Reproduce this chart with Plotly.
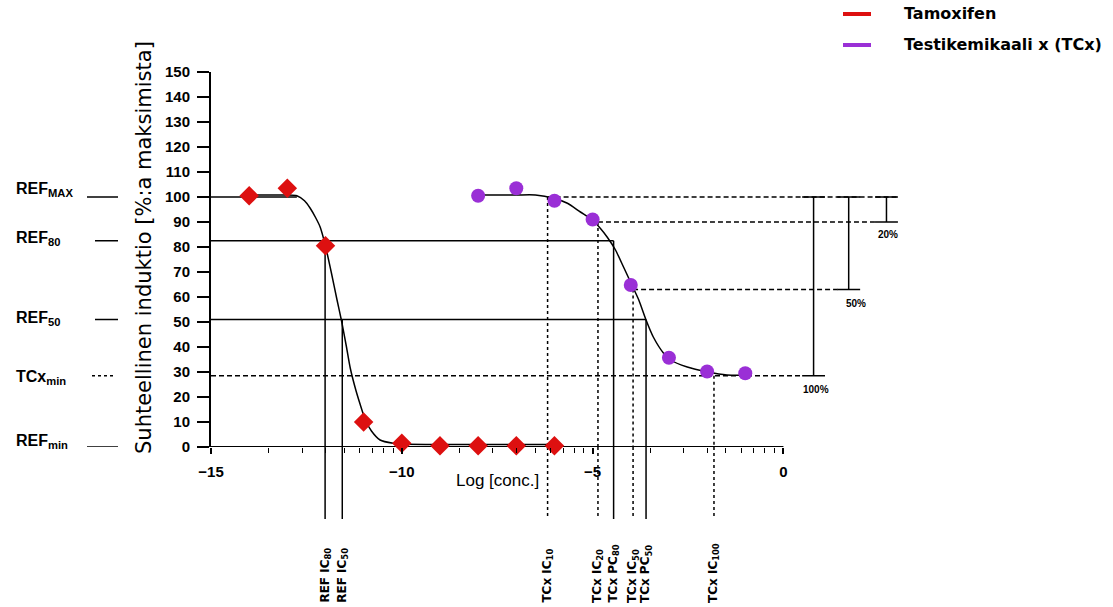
import math
import plotly.graph_objects as go

# ---------------- data ----------------
ref_name = "Tamoxifen"
tc_name = "Testikemikaali x (TCx)"

ref_x = [-14, -13, -12, -11, -10, -9, -8, -7, -6]
ref_y = [100.5, 103.5, 80.5, 10, 1.5, 0.5, 0.5, 0.5, 0.5]

tc_x = [-8, -7, -6, -5, -4, -3, -2, -1]
tc_y = [100.5, 103.5, 98.5, 91, 64.8, 35.7, 30.2, 29.5]

ref_curve_x = [-14, -13.4, -13, -12.75, -12.55, -12.4, -12.25, -12.14, -12.01, -11.85, -11.7,
               -11.58, -11.45, -11.35, -11.2, -11.09, -10.96, -10.8, -10.57, -10.23, -10,
               -9, -8, -7, -6]
ref_curve_y = [100.8, 100.8, 100.8, 100.5, 98.5, 95.5, 91.5, 88, 81, 70, 59,
               50.5, 40, 31.5, 22.5, 17, 11, 6.5, 2.8, 1.5, 1.2,
               1, 1, 1, 1]

tc_curve_x = [-8, -7, -6.5, -6.02, -5.66, -5.32, -5.02, -4.8, -4.62, -4.4, -4.19, -3.97,
              -3.79, -3.6, -3.41, -3.14, -2.96, -2.52, -2.0, -1.48, -1.0]
tc_curve_y = [100.8, 100.8, 100.8, 99.5, 97.5, 94, 91, 87.5, 84, 78.8, 72, 64.8,
              58.8, 50.8, 44, 37.5, 34.8, 32, 30.1, 28.8, 28.7]

# reference levels (y)
REF_MAX = 100
REF_80 = 82.5
REF_50 = 51
TC_MIN = 28.5
REF_MIN = 0
TC_90 = 90
TC_63 = 63

# concentration markers (x)
ref_ic80_x, ref_ic50_x = -12.01, -11.56
tc_ic10_x, tc_ic20_x, tc_pc80_x, tc_ic50_x, tc_pc50_x, tc_ic100_x = -6.18, -4.86, -4.45, -3.94, -3.6, -1.82

x_ticks = [-15, -10, -5, 0]
x_tick_text = ["\u221215", "\u221210", "\u22125", "0"]
y_ticks = list(range(0, 151, 10))

left_labels = ["REF<sub>MAX</sub>", "REF<sub>80</sub>", "REF<sub>50</sub>", "TCx<sub>min</sub>", "REF<sub>min</sub>"]
bottom_labels = ["REF IC<sub>80</sub>", "REF IC<sub>50</sub>", "TCx IC<sub>10</sub>", "TCx IC<sub>20</sub>",
                 "TCx PC<sub>80</sub>", "TCx IC<sub>50</sub>", "TCx PC<sub>50</sub>", "TCx IC<sub>100</sub>"]
pct_labels = ["100%", "50%", "20%"]
y_title = "Suhteellinen induktio [%:a maksimista]"
x_title = "Log [conc.]"

RED = "#dd1010"
PURPLE = "#9a2fd6"
FONT = "Liberation Sans Narrow, Arial Narrow, Liberation Sans, Arial, sans-serif"
FONT2 = "Liberation Sans, Arial, sans-serif"
FONT3 = "DejaVu Sans, Liberation Sans, sans-serif"

fig = go.Figure()

# fitted curves
fig.add_trace(go.Scatter(x=ref_curve_x, y=ref_curve_y, mode="lines", name=ref_name + " fit",
                         line=dict(color="black", width=1.5, shape="spline", smoothing=0.6),
                         showlegend=False, hoverinfo="skip"))
fig.add_trace(go.Scatter(x=tc_curve_x, y=tc_curve_y, mode="lines", name=tc_name + " fit",
                         line=dict(color="black", width=1.5, shape="spline", smoothing=0.6),
                         showlegend=False, hoverinfo="skip"))
# data points
fig.add_trace(go.Scatter(x=ref_x, y=ref_y, mode="markers", name=ref_name,
                         marker=dict(symbol="diamond", size=15, color=RED),
                         showlegend=False, cliponaxis=False))
fig.add_trace(go.Scatter(x=tc_x, y=tc_y, mode="markers", name=tc_name,
                         marker=dict(symbol="circle", size=14, color=PURPLE),
                         showlegend=False, cliponaxis=False))

L, W = 211, 706
def px(p):
    return (p - L) / W
def py(p):
    return (447 - p) / 375

shapes = []
def seg(x0, y0, x1, y1, dash="solid", xref="x", yref="y", w=1.5, color="black"):
    shapes.append(dict(type="line", x0=x0, y0=y0, x1=x1, y1=y1, xref=xref, yref=yref,
                       line=dict(color=color, width=w, dash=dash), layer="below"))

HD = "5px,3px"
VD = "3px,3px"
# x axis line
seg(-15, 0, 0, 0, w=2)
# horizontal solid reference lines
seg(-15, REF_MAX, -12.75, REF_MAX)
seg(-15, REF_80, tc_pc80_x, REF_80)
seg(-15, REF_50, tc_pc50_x, REF_50)
# horizontal dashed lines
seg(-15, TC_MIN, 0.79 - 0.3, TC_MIN, HD)
seg(tc_ic10_x, REF_MAX, 3.0, REF_MAX, HD)
seg(tc_ic20_x, TC_90, 2.42, TC_90, HD)
seg(tc_ic50_x, TC_63, 1.42, TC_63, HD)
# vertical lines: data part and below-axis part
BOT = py(519)
for xv, yv, d in [(ref_ic80_x, REF_80, "solid"), (ref_ic50_x, REF_50, "solid"),
                  (tc_ic10_x, REF_MAX, VD), (tc_ic20_x, TC_90, VD), (tc_pc80_x, REF_80, "solid"),
                  (tc_ic50_x, TC_63, VD), (tc_pc50_x, REF_50, "solid"), (tc_ic100_x, TC_MIN, VD)]:
    seg(xv, yv, xv, 0, d)
    seg(xv, 0, xv, BOT, d, yref="paper")
# brackets
for bx, ylow in [(0.79, TC_MIN), (1.71, TC_63), (2.70, TC_90)]:
    seg(bx, REF_MAX, bx, ylow)
    seg(bx - 0.3, REF_MAX, bx + 0.3, REF_MAX)
    seg(bx - 0.3, ylow, bx + 0.3, ylow)
# short segments at left margin
seg(px(87), REF_MAX, px(118), REF_MAX, xref="paper")
seg(px(95), REF_80, px(118), REF_80, xref="paper")
seg(px(95), REF_50, px(118), REF_50, xref="paper")
seg(px(92), TC_MIN, px(116), TC_MIN, "3px,3px", xref="paper")
seg(px(87), REF_MIN, px(118), REF_MIN, xref="paper")
# manual legend symbols
seg(px(843), py(14), px(871), py(14), xref="paper", yref="paper", w=4, color=RED)
seg(px(843), py(45), px(871), py(45), xref="paper", yref="paper", w=4, color=PURPLE)

annotations = []
# legend texts
for txt, yp in [(ref_name, 14), (tc_name, 45)]:
    annotations.append(dict(text=txt, x=px(902), y=py(yp), xref="paper", yref="paper", xanchor="left",
                            yanchor="middle", showarrow=False,
                            font=dict(family=FONT3, size=16, color="black", weight="bold")))
# left labels
for txt, yv in zip(left_labels, [103, 83.6, 51.5, 28, 2.4]):
    annotations.append(dict(text=txt, x=px(14), y=yv, xref="paper", yref="y", xanchor="left", yanchor="middle",
                            showarrow=False, font=dict(family=FONT2, size=16, color="black", weight="bold")))
# y title
annotations.append(dict(text=y_title, x=px(144), y=79.6, xref="paper", yref="y",
                        textangle=-90, showarrow=False, xanchor="center", yanchor="middle",
                        font=dict(family=FONT3, size=21, color="black")))
# x title
annotations.append(dict(text=x_title, x=-7.5, y=py(480), xref="x", yref="paper", showarrow=False,
                        xanchor="center", yanchor="middle", font=dict(family=FONT2, size=17, color="black")))
# bottom labels
for txt, xv in zip(bottom_labels, [ref_ic80_x, ref_ic50_x, tc_ic10_x, tc_ic20_x, tc_pc80_x, tc_ic50_x, tc_pc50_x, tc_ic100_x]):
    annotations.append(dict(text=txt, x=xv, y=py(605), xref="x", yref="paper", textangle=-90, showarrow=False,
                            xanchor="center", yanchor="bottom",
                            font=dict(family=FONT3, size=12, color="black", weight="bold")))
# percentage labels
for txt, xv, yv in zip(pct_labels, [0.85, 1.9, 2.75], [TC_MIN - 5.5, TC_63 - 5.5, TC_90 - 5]):
    annotations.append(dict(text=txt, x=xv, y=yv, xref="x", yref="y", showarrow=False, xanchor="center",
                            yanchor="middle", font=dict(family=FONT2, size=10, color="black", weight="bold")))

fig.update_layout(
    width=1113, height=607,
    margin=dict(l=211, r=196, t=72, b=160),
    paper_bgcolor="white", plot_bgcolor="white",
    shapes=shapes, annotations=annotations,
    showlegend=False,
    xaxis=dict(range=[-15, 3.5], showline=False, showgrid=False, zeroline=False,
               tickmode="array", tickvals=x_ticks, ticktext=x_tick_text, ticks="outside", ticklen=6,
               tickwidth=1.5, tickcolor="black", ticklabelstandoff=5,
               tickfont=dict(family=FONT, size=15, color="black", weight="bold"),
               minor=dict(tickmode="array",
                          tickvals=[b + 5 * math.log10(k) for b in (-15, -10, -5) for k in range(2, 10)],
                          ticks="outside", ticklen=5, tickwidth=1.2, tickcolor="black")),
    yaxis=dict(range=[0, 150], showline=True, linecolor="black", linewidth=2, showgrid=False, zeroline=False,
               tickmode="array", tickvals=y_ticks, ticks="outside", ticklen=12, tickwidth=1.5, tickcolor="black",
               ticklabelstandoff=4,
               tickfont=dict(family=FONT, size=15, color="black", weight="bold")),
)

fig.write_html("out.html")
